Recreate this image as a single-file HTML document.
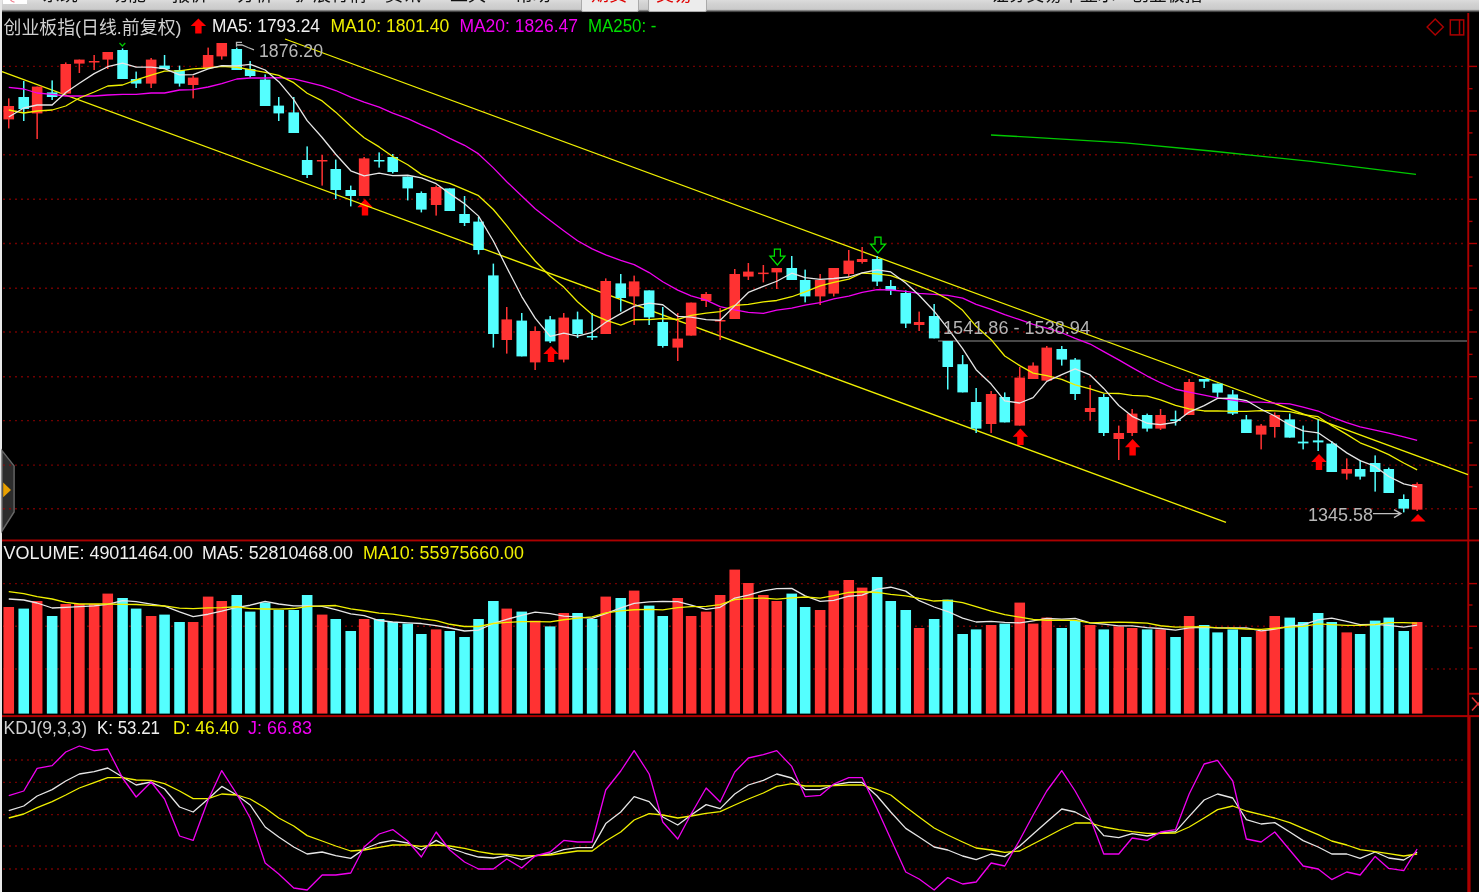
<!DOCTYPE html><html lang="zh"><head><meta charset="utf-8"><title>创业板指</title>
<style>
html,body{margin:0;padding:0;background:#000;}
body{width:1479px;height:892px;overflow:hidden;position:relative;font-family:"Liberation Sans","Noto Sans CJK SC",sans-serif;}
#top{position:absolute;left:0;top:0;width:1479px;height:13px;background:linear-gradient(#dcdcdc 0%,#d2d2d2 30%,#cacaca 72%,#000 97%);overflow:hidden;}
#top span{position:absolute;top:-14px;font-size:18px;line-height:18px;color:#111;white-space:nowrap;}
#top .btn{position:absolute;top:-6px;height:16px;background:#ececec;border:1px solid #aaa;border-radius:2px;}
#top span.red{color:#e00000;}
svg{position:absolute;left:0;top:0;}
svg text{font-family:"Liberation Sans","Noto Sans CJK SC",sans-serif;}
</style></head><body>
<div id="top">
<div class="btn" style="left:3px;width:24px;top:-12px;background:#fff;border:none;border-radius:0"></div>
<div class="btn" style="left:581px;width:56px"></div><div class="btn" style="left:648px;width:57px"></div>
<span class="" style="left:42px">系统</span>
<span class="" style="left:110px">功能</span>
<span class="" style="left:172px">报价</span>
<span class="" style="left:237px">分析</span>
<span class="" style="left:295px">扩展行情</span>
<span class="" style="left:385px">资讯</span>
<span class="" style="left:450px">工具</span>
<span class="" style="left:515px">帮助</span>
<span class="red" style="left:591px">期货</span>
<span class="red" style="left:656px">交易</span>
<span style="left:991px;font-size:17.8px">证券交易平显示 - 创业板指</span>
</div>
<svg width="1479" height="892" viewBox="0 0 1479 892">
<path d="M10.5 0 L12 1.2 L14.5 2.2" stroke="#f08090" stroke-width="1.2" fill="none"/>
<rect x="0" y="0" width="2" height="892" fill="#e8e8e8"/>
<path d="M2 450.6 L14.1 465.9 L14.1 512 L2 531 Z" fill="#2c2c2c" stroke="#686868" stroke-width="1.4"/>
<path d="M3.2 482.5 L11 490 L3.2 497.3 Z" fill="#e8a000"/>
<line x1="3.3" y1="66.4" x2="1464" y2="66.4" stroke="#a00000" stroke-width="1.4" stroke-dasharray="1.4 4.6"/>
<line x1="3.3" y1="111" x2="1464" y2="111" stroke="#a00000" stroke-width="1.4" stroke-dasharray="1.4 4.6"/>
<line x1="3.3" y1="154.8" x2="1464" y2="154.8" stroke="#a00000" stroke-width="1.4" stroke-dasharray="1.4 4.6"/>
<line x1="3.3" y1="199.3" x2="1464" y2="199.3" stroke="#a00000" stroke-width="1.4" stroke-dasharray="1.4 4.6"/>
<line x1="3.3" y1="243.5" x2="1464" y2="243.5" stroke="#a00000" stroke-width="1.4" stroke-dasharray="1.4 4.6"/>
<line x1="3.3" y1="288.2" x2="1464" y2="288.2" stroke="#a00000" stroke-width="1.4" stroke-dasharray="1.4 4.6"/>
<line x1="3.3" y1="332" x2="1464" y2="332" stroke="#a00000" stroke-width="1.4" stroke-dasharray="1.4 4.6"/>
<line x1="3.3" y1="376.7" x2="1464" y2="376.7" stroke="#a00000" stroke-width="1.4" stroke-dasharray="1.4 4.6"/>
<line x1="3.3" y1="420.6" x2="1464" y2="420.6" stroke="#a00000" stroke-width="1.4" stroke-dasharray="1.4 4.6"/>
<line x1="3.3" y1="465.1" x2="1464" y2="465.1" stroke="#a00000" stroke-width="1.4" stroke-dasharray="1.4 4.6"/>
<line x1="3.3" y1="508.7" x2="1464" y2="508.7" stroke="#a00000" stroke-width="1.4" stroke-dasharray="1.4 4.6"/>
<line x1="3.3" y1="583.6" x2="1464" y2="583.6" stroke="#a00000" stroke-width="1.4" stroke-dasharray="1.4 4.6"/>
<line x1="3.3" y1="626.3" x2="1464" y2="626.3" stroke="#a00000" stroke-width="1.4" stroke-dasharray="1.4 4.6"/>
<line x1="3.3" y1="669" x2="1464" y2="669" stroke="#a00000" stroke-width="1.4" stroke-dasharray="1.4 4.6"/>
<line x1="3.3" y1="760" x2="1464" y2="760" stroke="#a00000" stroke-width="1.4" stroke-dasharray="1.4 4.6"/>
<line x1="3.3" y1="782.4" x2="1464" y2="782.4" stroke="#a00000" stroke-width="1.4" stroke-dasharray="1.4 4.6"/>
<line x1="3.3" y1="814.6" x2="1464" y2="814.6" stroke="#a00000" stroke-width="1.4" stroke-dasharray="1.4 4.6"/>
<line x1="3.3" y1="846" x2="1464" y2="846" stroke="#a00000" stroke-width="1.4" stroke-dasharray="1.4 4.6"/>
<line x1="3.3" y1="869" x2="1464" y2="869" stroke="#a00000" stroke-width="1.4" stroke-dasharray="1.4 4.6"/>
<rect x="1467.3" y="13" width="1.9" height="703" fill="#ac0000"/>
<rect x="1467.3" y="716" width="3.3" height="176" fill="#ac0000"/>
<rect x="1469" y="65.7" width="8" height="1.4" fill="#ac0000"/>
<rect x="1469" y="88" width="3.5" height="1.4" fill="#ac0000"/>
<rect x="1469" y="110.3" width="8" height="1.4" fill="#ac0000"/>
<rect x="1469" y="132.2" width="3.5" height="1.4" fill="#ac0000"/>
<rect x="1469" y="154.1" width="8" height="1.4" fill="#ac0000"/>
<rect x="1469" y="176.35" width="3.5" height="1.4" fill="#ac0000"/>
<rect x="1469" y="198.6" width="8" height="1.4" fill="#ac0000"/>
<rect x="1469" y="220.7" width="3.5" height="1.4" fill="#ac0000"/>
<rect x="1469" y="242.8" width="8" height="1.4" fill="#ac0000"/>
<rect x="1469" y="265.15" width="3.5" height="1.4" fill="#ac0000"/>
<rect x="1469" y="287.5" width="8" height="1.4" fill="#ac0000"/>
<rect x="1469" y="309.4" width="3.5" height="1.4" fill="#ac0000"/>
<rect x="1469" y="331.3" width="8" height="1.4" fill="#ac0000"/>
<rect x="1469" y="353.65" width="3.5" height="1.4" fill="#ac0000"/>
<rect x="1469" y="376" width="8" height="1.4" fill="#ac0000"/>
<rect x="1469" y="397.95" width="3.5" height="1.4" fill="#ac0000"/>
<rect x="1469" y="419.9" width="8" height="1.4" fill="#ac0000"/>
<rect x="1469" y="442.15" width="3.5" height="1.4" fill="#ac0000"/>
<rect x="1469" y="464.4" width="8" height="1.4" fill="#ac0000"/>
<rect x="1469" y="486.2" width="3.5" height="1.4" fill="#ac0000"/>
<rect x="1469" y="508" width="8" height="1.4" fill="#ac0000"/>
<rect x="1469" y="582.9" width="8" height="1.4" fill="#ac0000"/>
<rect x="1469" y="625.6" width="8" height="1.4" fill="#ac0000"/>
<rect x="1469" y="668.3" width="8" height="1.4" fill="#ac0000"/>
<rect x="1469" y="604.3" width="3.5" height="1.4" fill="#ac0000"/>
<rect x="1469" y="647.3" width="3.5" height="1.4" fill="#ac0000"/>
<rect x="2" y="539.5" width="1477" height="1.9" fill="#ac0000"/>
<rect x="2" y="715.1" width="1477" height="2" fill="#ac0000"/>
<rect x="1469" y="692.8" width="10" height="1.9" fill="#ac0000"/>
<path d="M1472 697.5 L1478 704 L1472 710.5 M1478 704 L1484 697.5 M1478 704 L1484 710.5" stroke="#e63232" stroke-width="1.6" fill="none"/>
<path d="M1435.2 19 L1443.3 27 L1435.2 35 L1427.1 27 Z" stroke="#ac0000" stroke-width="1.4" fill="none"/>
<rect x="1450.3" y="19.9" width="13.4" height="15" stroke="#ac0000" stroke-width="1.5" fill="none"/>
<line x1="1459.5" y1="19.9" x2="1459.5" y2="34.9" stroke="#ac0000" stroke-width="1.5"/>
<path d="M365 199 L372.7 207.3 L368.2 207.3 L368.2 215.6 L361.8 215.6 L361.8 207.3 L357.3 207.3 Z" fill="#ff0000"/>
<path d="M551 346 L558.7 354 L554.2 354 L554.2 362 L547.8 362 L547.8 354 L543.3 354 Z" fill="#ff0000"/>
<path d="M1020.4 428.6 L1028.1 436.8 L1023.6 436.8 L1023.6 445 L1017.2 445 L1017.2 436.8 L1012.7 436.8 Z" fill="#ff0000"/>
<path d="M1132.6 439 L1140.3 447.3 L1135.8 447.3 L1135.8 455.6 L1129.4 455.6 L1129.4 447.3 L1124.9 447.3 Z" fill="#ff0000"/>
<path d="M1319 454 L1326.7 462 L1322.2 462 L1322.2 470 L1315.8 470 L1315.8 462 L1311.3 462 Z" fill="#ff0000"/>
<path d="M198.4 18.4 L206.1 26 L201.6 26 L201.6 33.6 L195.2 33.6 L195.2 26 L190.7 26 Z" fill="#ff0000"/>
<path d="M774.4 249 L780.4 249 L780.4 256.04 L784.9 256.04 L777.4 265 L769.9 256.04 L774.4 256.04 Z" fill="#000" stroke="#00e400" stroke-width="1.25"/>
<path d="M875 237 L881 237 L881 244.04 L885.5 244.04 L878 253 L870.5 244.04 L875 244.04 Z" fill="#000" stroke="#00e400" stroke-width="1.25"/>
<path d="M119.5 43 L122.4 46 L125.3 43" stroke="#00c000" stroke-width="1.3" fill="none"/>
<path d="M1418 514 L1425.6 521.6 L1410.6 521.6 Z" fill="#ff0000"/>
<line x1="285" y1="39" x2="1468" y2="474.6" stroke="#f0f000" stroke-width="1.3"/>
<line x1="2" y1="71.6" x2="1226" y2="522.4" stroke="#f0f000" stroke-width="1.3"/>
<line x1="938" y1="341" x2="1467" y2="341" stroke="#909090" stroke-width="1.2"/>
<rect x="8" y="98.4" width="1.5" height="30" fill="#ff3232"/>
<rect x="3.45" y="106" width="10.6" height="13.4" fill="#ff3232"/>
<rect x="23" y="81" width="1.5" height="40" fill="#54ffff"/>
<rect x="18.45" y="97" width="10.6" height="12" fill="#54ffff"/>
<rect x="36.4" y="86.6" width="1.5" height="52.4" fill="#ff3232"/>
<rect x="31.85" y="86.6" width="10.6" height="26.8" fill="#ff3232"/>
<rect x="51.4" y="80.4" width="1.5" height="19.6" fill="#54ffff"/>
<rect x="46.85" y="92.4" width="10.6" height="4.6" fill="#54ffff"/>
<rect x="65" y="62.4" width="1.5" height="31.2" fill="#ff3232"/>
<rect x="60.45" y="64" width="10.6" height="29.6" fill="#ff3232"/>
<rect x="78.6" y="59.6" width="1.5" height="13.4" fill="#ff3232"/>
<rect x="74.05" y="59.6" width="10.6" height="4" fill="#ff3232"/>
<rect x="93.4" y="55" width="1.5" height="15" fill="#ff3232"/>
<rect x="88.85" y="61" width="10.6" height="1.5" fill="#ff3232"/>
<rect x="107" y="52" width="1.5" height="17" fill="#ff3232"/>
<rect x="102.45" y="52" width="10.6" height="7.6" fill="#ff3232"/>
<rect x="121.8" y="48.4" width="1.5" height="30.6" fill="#54ffff"/>
<rect x="117.25" y="50" width="10.6" height="29" fill="#54ffff"/>
<rect x="135.4" y="71.6" width="1.5" height="16.4" fill="#54ffff"/>
<rect x="130.85" y="79" width="10.6" height="4.6" fill="#54ffff"/>
<rect x="150.4" y="58" width="1.5" height="30" fill="#ff3232"/>
<rect x="145.85" y="59.6" width="10.6" height="24" fill="#ff3232"/>
<rect x="163.8" y="55" width="1.5" height="14" fill="#54ffff"/>
<rect x="159.25" y="65.6" width="10.6" height="3.4" fill="#54ffff"/>
<rect x="178.8" y="65.6" width="1.5" height="21" fill="#54ffff"/>
<rect x="174.25" y="70" width="10.6" height="13.6" fill="#54ffff"/>
<rect x="192.4" y="75.6" width="1.5" height="22.8" fill="#ff3232"/>
<rect x="187.85" y="77.6" width="10.6" height="7.4" fill="#ff3232"/>
<rect x="207.4" y="47.6" width="1.5" height="20.4" fill="#ff3232"/>
<rect x="202.85" y="55" width="10.6" height="13" fill="#ff3232"/>
<rect x="221" y="43" width="1.5" height="16.6" fill="#ff3232"/>
<rect x="216.45" y="43" width="10.6" height="13.4" fill="#ff3232"/>
<rect x="236" y="47.6" width="1.5" height="22.4" fill="#54ffff"/>
<rect x="231.45" y="49" width="10.6" height="21" fill="#54ffff"/>
<rect x="249.4" y="61" width="1.5" height="16.6" fill="#54ffff"/>
<rect x="244.85" y="69" width="10.6" height="7" fill="#54ffff"/>
<rect x="264.4" y="74.4" width="1.5" height="31.6" fill="#54ffff"/>
<rect x="259.85" y="79.6" width="10.6" height="26.4" fill="#54ffff"/>
<rect x="278" y="97" width="1.5" height="24" fill="#54ffff"/>
<rect x="273.45" y="105.6" width="10.6" height="7.8" fill="#54ffff"/>
<rect x="293" y="97" width="1.5" height="36" fill="#54ffff"/>
<rect x="288.45" y="112.4" width="10.6" height="20.6" fill="#54ffff"/>
<rect x="306.4" y="146.4" width="1.5" height="31.6" fill="#54ffff"/>
<rect x="301.85" y="160" width="10.6" height="15" fill="#54ffff"/>
<rect x="321.4" y="155" width="1.5" height="30.6" fill="#ff3232"/>
<rect x="316.85" y="160" width="10.6" height="1.5" fill="#ff3232"/>
<rect x="335" y="159.6" width="1.5" height="39.4" fill="#54ffff"/>
<rect x="330.45" y="169" width="10.6" height="21" fill="#54ffff"/>
<rect x="350" y="185.6" width="1.5" height="20.8" fill="#54ffff"/>
<rect x="345.45" y="190" width="10.6" height="6" fill="#54ffff"/>
<rect x="363.4" y="157" width="1.5" height="39" fill="#ff3232"/>
<rect x="358.85" y="158.4" width="10.6" height="37.6" fill="#ff3232"/>
<rect x="378.4" y="152.4" width="1.5" height="15.2" fill="#54ffff"/>
<rect x="373.85" y="160" width="10.6" height="1.5" fill="#54ffff"/>
<rect x="392" y="154" width="1.5" height="19.4" fill="#54ffff"/>
<rect x="387.45" y="157" width="10.6" height="15" fill="#54ffff"/>
<rect x="407" y="176.6" width="1.5" height="23.8" fill="#54ffff"/>
<rect x="402.45" y="176.6" width="10.6" height="11.8" fill="#54ffff"/>
<rect x="420.6" y="191.4" width="1.5" height="21" fill="#54ffff"/>
<rect x="416.05" y="193" width="10.6" height="16.6" fill="#54ffff"/>
<rect x="435.4" y="185.6" width="1.5" height="30" fill="#ff3232"/>
<rect x="430.85" y="187" width="10.6" height="18" fill="#ff3232"/>
<rect x="449" y="188.4" width="1.5" height="22.6" fill="#54ffff"/>
<rect x="444.45" y="188.4" width="10.6" height="22.6" fill="#54ffff"/>
<rect x="463.8" y="196" width="1.5" height="30" fill="#54ffff"/>
<rect x="459.25" y="214" width="10.6" height="9" fill="#54ffff"/>
<rect x="477.8" y="217" width="1.5" height="37.4" fill="#54ffff"/>
<rect x="473.25" y="221.6" width="10.6" height="28.4" fill="#54ffff"/>
<rect x="492.6" y="263.6" width="1.5" height="84" fill="#54ffff"/>
<rect x="488.05" y="275.4" width="10.6" height="58.6" fill="#54ffff"/>
<rect x="506" y="307" width="1.5" height="46.6" fill="#ff3232"/>
<rect x="501.45" y="319.4" width="10.6" height="20.6" fill="#ff3232"/>
<rect x="521" y="313" width="1.5" height="43.4" fill="#54ffff"/>
<rect x="516.45" y="320.6" width="10.6" height="35.8" fill="#54ffff"/>
<rect x="534.4" y="326.4" width="1.5" height="43.6" fill="#ff3232"/>
<rect x="529.85" y="331" width="10.6" height="31.4" fill="#ff3232"/>
<rect x="549.4" y="316" width="1.5" height="27" fill="#54ffff"/>
<rect x="544.85" y="319.4" width="10.6" height="22" fill="#54ffff"/>
<rect x="563" y="313" width="1.5" height="49.4" fill="#ff3232"/>
<rect x="558.45" y="317.6" width="10.6" height="42" fill="#ff3232"/>
<rect x="576.8" y="311.6" width="1.5" height="26.4" fill="#54ffff"/>
<rect x="572.25" y="319.4" width="10.6" height="14.6" fill="#54ffff"/>
<rect x="591.4" y="313" width="1.5" height="27" fill="#54ffff"/>
<rect x="586.85" y="336" width="10.6" height="1.5" fill="#54ffff"/>
<rect x="605" y="278.4" width="1.5" height="55.6" fill="#ff3232"/>
<rect x="600.45" y="281" width="10.6" height="53" fill="#ff3232"/>
<rect x="620" y="274" width="1.5" height="37.6" fill="#54ffff"/>
<rect x="615.45" y="283.4" width="10.6" height="14.6" fill="#54ffff"/>
<rect x="633.4" y="275.6" width="1.5" height="49.4" fill="#ff3232"/>
<rect x="628.85" y="281.4" width="10.6" height="15" fill="#ff3232"/>
<rect x="648.4" y="290.4" width="1.5" height="34.6" fill="#54ffff"/>
<rect x="643.85" y="290.4" width="10.6" height="27" fill="#54ffff"/>
<rect x="662" y="307" width="1.5" height="40.6" fill="#54ffff"/>
<rect x="657.45" y="322" width="10.6" height="24" fill="#54ffff"/>
<rect x="677" y="313" width="1.5" height="48" fill="#ff3232"/>
<rect x="672.45" y="338.6" width="10.6" height="9" fill="#ff3232"/>
<rect x="690.4" y="302.6" width="1.5" height="33" fill="#ff3232"/>
<rect x="685.85" y="302.6" width="10.6" height="33" fill="#ff3232"/>
<rect x="705.4" y="292" width="1.5" height="15" fill="#ff3232"/>
<rect x="700.85" y="294" width="10.6" height="7" fill="#ff3232"/>
<rect x="719.4" y="308" width="1.5" height="32" fill="#ff3232"/>
<rect x="714.85" y="320" width="10.6" height="1.5" fill="#ff3232"/>
<rect x="734" y="269" width="1.5" height="50" fill="#ff3232"/>
<rect x="729.45" y="274" width="10.6" height="45" fill="#ff3232"/>
<rect x="747.6" y="263" width="1.5" height="17" fill="#ff3232"/>
<rect x="743.05" y="271.6" width="10.6" height="5" fill="#ff3232"/>
<rect x="762.6" y="265" width="1.5" height="17.4" fill="#ff3232"/>
<rect x="758.05" y="272.6" width="10.6" height="1.5" fill="#ff3232"/>
<rect x="776" y="268" width="1.5" height="21" fill="#ff3232"/>
<rect x="771.45" y="268" width="10.6" height="4.4" fill="#ff3232"/>
<rect x="791" y="256" width="1.5" height="24" fill="#54ffff"/>
<rect x="786.45" y="268" width="10.6" height="12" fill="#54ffff"/>
<rect x="804.4" y="269.6" width="1.5" height="32.8" fill="#54ffff"/>
<rect x="799.85" y="280" width="10.6" height="16.4" fill="#54ffff"/>
<rect x="819.4" y="274" width="1.5" height="31" fill="#ff3232"/>
<rect x="814.85" y="280" width="10.6" height="16.4" fill="#ff3232"/>
<rect x="833" y="268" width="1.5" height="28.4" fill="#ff3232"/>
<rect x="828.45" y="268" width="10.6" height="25.6" fill="#ff3232"/>
<rect x="848" y="250" width="1.5" height="27" fill="#ff3232"/>
<rect x="843.45" y="260.6" width="10.6" height="13.4" fill="#ff3232"/>
<rect x="861.4" y="247" width="1.5" height="16.6" fill="#ff3232"/>
<rect x="856.85" y="259" width="10.6" height="3" fill="#ff3232"/>
<rect x="876.4" y="256" width="1.5" height="30" fill="#54ffff"/>
<rect x="871.85" y="259" width="10.6" height="22.6" fill="#54ffff"/>
<rect x="890" y="280" width="1.5" height="15" fill="#54ffff"/>
<rect x="885.45" y="286" width="10.6" height="4.4" fill="#54ffff"/>
<rect x="905" y="290.4" width="1.5" height="37.6" fill="#54ffff"/>
<rect x="900.45" y="293" width="10.6" height="30.6" fill="#54ffff"/>
<rect x="918.4" y="311.6" width="1.5" height="19.4" fill="#ff3232"/>
<rect x="913.85" y="322" width="10.6" height="3" fill="#ff3232"/>
<rect x="933.4" y="304" width="1.5" height="34.4" fill="#54ffff"/>
<rect x="928.85" y="316" width="10.6" height="22.4" fill="#54ffff"/>
<rect x="947" y="341" width="1.5" height="48.5" fill="#54ffff"/>
<rect x="942.45" y="341" width="10.6" height="26" fill="#54ffff"/>
<rect x="961.9" y="355" width="1.5" height="37.4" fill="#54ffff"/>
<rect x="957.35" y="364.2" width="10.6" height="28.2" fill="#54ffff"/>
<rect x="975.4" y="388" width="1.5" height="45" fill="#54ffff"/>
<rect x="970.85" y="402" width="10.6" height="26.6" fill="#54ffff"/>
<rect x="990.4" y="391" width="1.5" height="42" fill="#ff3232"/>
<rect x="985.85" y="394" width="10.6" height="30" fill="#ff3232"/>
<rect x="1004" y="392.4" width="1.5" height="30" fill="#54ffff"/>
<rect x="999.45" y="397" width="10.6" height="25.4" fill="#54ffff"/>
<rect x="1019" y="367" width="1.5" height="58.6" fill="#ff3232"/>
<rect x="1014.45" y="377.6" width="10.6" height="48" fill="#ff3232"/>
<rect x="1032.4" y="362.4" width="1.5" height="16.6" fill="#ff3232"/>
<rect x="1027.85" y="365.6" width="10.6" height="13.4" fill="#ff3232"/>
<rect x="1046" y="346" width="1.5" height="34.6" fill="#ff3232"/>
<rect x="1041.45" y="347.6" width="10.6" height="33" fill="#ff3232"/>
<rect x="1061" y="346" width="1.5" height="19.6" fill="#54ffff"/>
<rect x="1056.45" y="349" width="10.6" height="10.6" fill="#54ffff"/>
<rect x="1074.4" y="358" width="1.5" height="42" fill="#54ffff"/>
<rect x="1069.85" y="359.6" width="10.6" height="34.4" fill="#54ffff"/>
<rect x="1089.4" y="385" width="1.5" height="35.6" fill="#ff3232"/>
<rect x="1084.85" y="408" width="10.6" height="4" fill="#ff3232"/>
<rect x="1103" y="394" width="1.5" height="42" fill="#54ffff"/>
<rect x="1098.45" y="397" width="10.6" height="36" fill="#54ffff"/>
<rect x="1118" y="425.6" width="1.5" height="34.4" fill="#ff3232"/>
<rect x="1113.45" y="433" width="10.6" height="6" fill="#ff3232"/>
<rect x="1131.4" y="409" width="1.5" height="27" fill="#ff3232"/>
<rect x="1126.85" y="413.6" width="10.6" height="19.4" fill="#ff3232"/>
<rect x="1146.4" y="413.6" width="1.5" height="18" fill="#54ffff"/>
<rect x="1141.85" y="415" width="10.6" height="13.6" fill="#54ffff"/>
<rect x="1159.8" y="409" width="1.5" height="21" fill="#ff3232"/>
<rect x="1155.25" y="415" width="10.6" height="13.6" fill="#ff3232"/>
<rect x="1174.8" y="410.6" width="1.5" height="15" fill="#54ffff"/>
<rect x="1170.25" y="419.4" width="10.6" height="1.6" fill="#54ffff"/>
<rect x="1188.4" y="379" width="1.5" height="36" fill="#ff3232"/>
<rect x="1183.85" y="382" width="10.6" height="33" fill="#ff3232"/>
<rect x="1203.4" y="379" width="1.5" height="9" fill="#54ffff"/>
<rect x="1198.85" y="379" width="10.6" height="2.6" fill="#54ffff"/>
<rect x="1216.8" y="383.6" width="1.5" height="14.8" fill="#54ffff"/>
<rect x="1212.25" y="383.6" width="10.6" height="9" fill="#54ffff"/>
<rect x="1232" y="390" width="1.5" height="25" fill="#54ffff"/>
<rect x="1227.45" y="394.4" width="10.6" height="19.2" fill="#54ffff"/>
<rect x="1245.6" y="415" width="1.5" height="18" fill="#54ffff"/>
<rect x="1241.05" y="419.4" width="10.6" height="13.6" fill="#54ffff"/>
<rect x="1260.4" y="424" width="1.5" height="25.4" fill="#ff3232"/>
<rect x="1255.85" y="425.6" width="10.6" height="9" fill="#ff3232"/>
<rect x="1274" y="412.4" width="1.5" height="25.2" fill="#ff3232"/>
<rect x="1269.45" y="415" width="10.6" height="12" fill="#ff3232"/>
<rect x="1289" y="413.6" width="1.5" height="24" fill="#54ffff"/>
<rect x="1284.45" y="419.4" width="10.6" height="18.2" fill="#54ffff"/>
<rect x="1302.4" y="425.6" width="1.5" height="23.8" fill="#54ffff"/>
<rect x="1297.85" y="441.6" width="10.6" height="1.8" fill="#54ffff"/>
<rect x="1317.4" y="419.4" width="1.5" height="31.6" fill="#54ffff"/>
<rect x="1312.85" y="440.4" width="10.6" height="2" fill="#54ffff"/>
<rect x="1331" y="441" width="1.5" height="31" fill="#54ffff"/>
<rect x="1326.45" y="443.6" width="10.6" height="28.4" fill="#54ffff"/>
<rect x="1346" y="458.4" width="1.5" height="21.2" fill="#ff3232"/>
<rect x="1341.45" y="469" width="10.6" height="4.6" fill="#ff3232"/>
<rect x="1359.4" y="460" width="1.5" height="19.6" fill="#54ffff"/>
<rect x="1354.85" y="469" width="10.6" height="7.6" fill="#54ffff"/>
<rect x="1374.4" y="455.4" width="1.5" height="36.2" fill="#54ffff"/>
<rect x="1369.85" y="463" width="10.6" height="9" fill="#54ffff"/>
<rect x="1388" y="467.6" width="1.5" height="25.4" fill="#54ffff"/>
<rect x="1383.45" y="469" width="10.6" height="24" fill="#54ffff"/>
<rect x="1403" y="494.4" width="1.5" height="18" fill="#54ffff"/>
<rect x="1398.45" y="499" width="10.6" height="9.6" fill="#54ffff"/>
<rect x="1416.4" y="482.4" width="1.5" height="28.6" fill="#ff3232"/>
<rect x="1411.85" y="484" width="10.6" height="25.6" fill="#ff3232"/>
<polyline points="8.75,87.4 23.75,89 37.15,93 52.15,94.4 65.75,96 79.35,96 94.15,96 107.75,95 122.55,94.4 136.15,94.4 151.15,93 164.55,93 179.55,90 193.15,89.6 208.15,87 221.75,83.6 236.75,79 250.15,78 265.15,78 278.75,77.55 293.75,78.9 307.15,82.2 322.15,85.87 335.75,90.52 350.75,97.12 364.15,102.06 379.15,107.08 392.75,113.08 407.75,118.55 421.35,124.85 436.15,131.22 449.75,138.32 464.55,145.29 478.55,153.91 493.35,167.86 506.75,181.68 521.75,196 535.15,208.75 550.15,220.52 563.75,230.73 577.55,240.78 592.15,248.9 605.75,254.95 620.75,260.35 634.15,264.62 649.15,272.57 662.75,281.8 677.75,290.13 691.15,295.84 706.15,300.06 720.15,306.71 734.75,309.86 748.35,312.29 763.35,313.42 776.75,310.12 791.75,308.15 805.15,305.15 820.15,302.6 833.75,298.93 848.75,296.08 862.15,292.33 877.15,289.54 890.75,290.01 905.75,291.29 919.15,293.32 934.15,294.37 947.75,295.42 962.65,298.11 976.15,304.41 991.15,309.41 1004.75,314.53 1019.75,319.71 1033.15,324.41 1046.75,328.16 1061.75,332.74 1075.15,338.44 1090.15,344.02 1103.75,351.67 1118.75,359.92 1132.15,367.57 1147.15,376.05 1160.55,382.72 1175.55,389.25 1189.15,392.17 1204.15,395.15 1217.55,397.86 1232.75,400.19 1246.35,402.22 1261.15,402.07 1274.75,403.12 1289.75,403.88 1303.15,407.17 1318.15,411.01 1331.75,417.23 1346.75,422.7 1360.15,426.83 1375.15,430.03 1388.75,433.03 1403.75,436.81 1417.15,440.33" fill="none" stroke="#f000f0" stroke-width="1.3" stroke-linejoin="round" />
<polyline points="8.75,110 23.75,113 37.15,111 52.15,110 65.75,106 79.35,98 94.15,92 107.75,86 122.55,85 136.15,79.78 151.15,75.14 164.55,71.14 179.55,70.84 193.15,68.9 208.15,68 221.75,66.34 236.75,67.24 250.15,69.64 265.15,72.34 278.75,75.32 293.75,82.66 307.15,93.26 322.15,100.9 335.75,112.14 350.75,126.24 364.15,137.78 379.15,146.92 392.75,156.52 407.75,164.76 421.35,174.38 436.15,179.78 449.75,183.38 464.55,189.68 478.55,195.68 493.35,209.48 506.75,225.58 521.75,245.08 535.15,260.98 550.15,276.28 563.75,287.08 577.55,301.78 592.15,314.42 605.75,320.22 620.75,325.02 634.15,319.76 649.15,319.56 662.75,318.52 677.75,319.28 691.15,315.4 706.15,313.04 720.15,311.64 734.75,305.3 748.35,304.36 763.35,301.82 776.75,300.48 791.75,296.74 805.15,291.78 820.15,285.92 833.75,282.46 848.75,279.12 862.15,273.02 877.15,273.78 890.75,275.66 905.75,280.76 919.15,286.16 934.15,292 947.75,299.06 962.65,310.3 976.15,326.36 991.15,339.7 1004.75,356.04 1019.75,365.64 1033.15,373.16 1046.75,375.56 1061.75,379.32 1075.15,384.88 1090.15,388.98 1103.75,393.04 1118.75,393.48 1132.15,395.44 1147.15,396.06 1160.55,399.8 1175.55,405.34 1189.15,408.78 1204.15,410.98 1217.55,410.84 1232.75,411.4 1246.35,411.4 1261.15,410.66 1274.75,410.8 1289.75,411.7 1303.15,414.54 1318.15,416.68 1331.75,425.68 1346.75,434.42 1360.15,442.82 1375.15,448.66 1388.75,454.66 1403.75,462.96 1417.15,469.86" fill="none" stroke="#f0f000" stroke-width="1.3" stroke-linejoin="round" />
<polyline points="8.75,117 23.75,108 37.15,105 52.15,105 65.75,92.52 79.35,83.24 94.15,73.64 107.75,66.72 122.55,63.12 136.15,67.04 151.15,67.04 164.55,68.64 179.55,74.96 193.15,74.68 208.15,68.96 221.75,65.64 236.75,65.84 250.15,64.32 265.15,70 278.75,81.68 293.75,99.68 307.15,120.68 322.15,137.48 335.75,154.28 350.75,170.8 364.15,175.88 379.15,173.16 392.75,175.56 407.75,175.24 421.35,177.96 436.15,183.68 449.75,193.6 464.55,203.8 478.55,216.12 493.35,241 506.75,267.48 521.75,296.56 535.15,318.16 550.15,336.44 563.75,333.16 577.55,336.08 592.15,332.28 605.75,322.28 620.75,313.6 634.15,306.36 649.15,303.04 662.75,304.76 677.75,316.28 691.15,317.2 706.15,319.72 720.15,320.24 734.75,305.84 748.35,292.44 763.35,286.44 776.75,281.24 791.75,273.24 805.15,277.72 820.15,279.4 833.75,278.48 848.75,277 862.15,272.8 877.15,269.84 890.75,271.92 905.75,283.04 919.15,295.32 934.15,311.2 947.75,328.28 962.65,348.68 976.15,369.68 991.15,384.08 1004.75,400.88 1019.75,403 1033.15,397.64 1046.75,381.44 1061.75,374.56 1075.15,368.88 1090.15,374.96 1103.75,388.44 1118.75,405.52 1132.15,416.32 1147.15,423.24 1160.55,424.64 1175.55,422.24 1189.15,412.04 1204.15,405.64 1217.55,398.44 1232.75,398.16 1246.35,400.56 1261.15,409.28 1274.75,415.96 1289.75,424.96 1303.15,430.92 1318.15,432.8 1331.75,442.08 1346.75,452.88 1360.15,460.68 1375.15,466.4 1388.75,476.52 1403.75,483.84 1417.15,486.84" fill="none" stroke="#e6e6e6" stroke-width="1.3" stroke-linejoin="round" />
<polyline points="991,135 1033,137.3 1125,142.8 1211,151 1311,161.4 1416,174.4" fill="none" stroke="#00c800" stroke-width="1.3" stroke-linejoin="round" />
<text x="3.5" y="33.5" fill="#d0d0d0" font-size="18.6" textLength="178" lengthAdjust="spacingAndGlyphs" >创业板指(日线.前复权)</text>
<text x="212" y="32.3" fill="#f0f0f0" font-size="17.6" textLength="108" lengthAdjust="spacingAndGlyphs" >MA5: 1793.24</text>
<text x="330.4" y="32.3" fill="#f0f000" font-size="17.6" textLength="119" lengthAdjust="spacingAndGlyphs" >MA10: 1801.40</text>
<text x="459.4" y="32.3" fill="#f000f0" font-size="17.6" textLength="118.6" lengthAdjust="spacingAndGlyphs" >MA20: 1826.47</text>
<text x="588" y="32.3" fill="#00e000" font-size="17.6" textLength="68.4" lengthAdjust="spacingAndGlyphs" >MA250: -</text>
<text x="259" y="57" fill="#b8b8b8" font-size="17.6" textLength="64" lengthAdjust="spacingAndGlyphs" >1876.20</text>
<path d="M236.5 46.8 L236.5 42.3 L242 42.3 M236.5 45 L242 45 L248 47.5 L254 49.8" stroke="#b8b8b8" stroke-width="1.3" fill="none"/>
<text x="943" y="334" fill="#b4b4b4" font-size="17.6" textLength="147" lengthAdjust="spacingAndGlyphs" >1541.86 - 1538.94</text>
<text x="1308" y="521" fill="#b8b8b8" font-size="17.6" textLength="65" lengthAdjust="spacingAndGlyphs" >1345.58</text>
<path d="M1373 513.6 L1401 513.6 M1394 509.6 L1401 513.6 L1394 517.6" stroke="#c0c0c0" stroke-width="1.3" fill="none"/>
<rect x="3.45" y="607" width="10.6" height="106.6" fill="#ff3232"/>
<rect x="18.45" y="608.6" width="10.6" height="105" fill="#54ffff"/>
<rect x="31.85" y="601" width="10.6" height="112.6" fill="#ff3232"/>
<rect x="46.85" y="616" width="10.6" height="97.6" fill="#54ffff"/>
<rect x="60.45" y="604" width="10.6" height="109.6" fill="#ff3232"/>
<rect x="74.05" y="604" width="10.6" height="109.6" fill="#ff3232"/>
<rect x="88.85" y="604" width="10.6" height="109.6" fill="#ff3232"/>
<rect x="102.45" y="593.6" width="10.6" height="120" fill="#ff3232"/>
<rect x="117.25" y="598" width="10.6" height="115.6" fill="#54ffff"/>
<rect x="130.85" y="608.6" width="10.6" height="105" fill="#54ffff"/>
<rect x="145.85" y="616" width="10.6" height="97.6" fill="#ff3232"/>
<rect x="159.25" y="614.6" width="10.6" height="99" fill="#54ffff"/>
<rect x="174.25" y="622" width="10.6" height="91.6" fill="#54ffff"/>
<rect x="187.85" y="622" width="10.6" height="91.6" fill="#ff3232"/>
<rect x="202.85" y="596.6" width="10.6" height="117" fill="#ff3232"/>
<rect x="216.45" y="601" width="10.6" height="112.6" fill="#ff3232"/>
<rect x="231.45" y="595" width="10.6" height="118.6" fill="#54ffff"/>
<rect x="244.85" y="611.6" width="10.6" height="102" fill="#54ffff"/>
<rect x="259.85" y="602.4" width="10.6" height="111.2" fill="#54ffff"/>
<rect x="273.45" y="610" width="10.6" height="103.6" fill="#54ffff"/>
<rect x="288.45" y="610" width="10.6" height="103.6" fill="#54ffff"/>
<rect x="301.85" y="595" width="10.6" height="118.6" fill="#54ffff"/>
<rect x="316.85" y="614.6" width="10.6" height="99" fill="#ff3232"/>
<rect x="330.45" y="619" width="10.6" height="94.6" fill="#54ffff"/>
<rect x="345.45" y="631" width="10.6" height="82.6" fill="#54ffff"/>
<rect x="358.85" y="619" width="10.6" height="94.6" fill="#ff3232"/>
<rect x="373.85" y="619" width="10.6" height="94.6" fill="#54ffff"/>
<rect x="387.45" y="622" width="10.6" height="91.6" fill="#54ffff"/>
<rect x="402.45" y="623.6" width="10.6" height="90" fill="#54ffff"/>
<rect x="416.05" y="634" width="10.6" height="79.6" fill="#54ffff"/>
<rect x="430.85" y="629.4" width="10.6" height="84.2" fill="#ff3232"/>
<rect x="444.45" y="631" width="10.6" height="82.6" fill="#54ffff"/>
<rect x="459.25" y="637" width="10.6" height="76.6" fill="#54ffff"/>
<rect x="473.25" y="619" width="10.6" height="94.6" fill="#54ffff"/>
<rect x="488.05" y="601" width="10.6" height="112.6" fill="#54ffff"/>
<rect x="501.45" y="608.6" width="10.6" height="105" fill="#ff3232"/>
<rect x="516.45" y="611.6" width="10.6" height="102" fill="#54ffff"/>
<rect x="529.85" y="620.6" width="10.6" height="93" fill="#ff3232"/>
<rect x="544.85" y="626.4" width="10.6" height="87.2" fill="#54ffff"/>
<rect x="558.45" y="613" width="10.6" height="100.6" fill="#ff3232"/>
<rect x="572.25" y="613" width="10.6" height="100.6" fill="#54ffff"/>
<rect x="586.85" y="619" width="10.6" height="94.6" fill="#54ffff"/>
<rect x="600.45" y="596.6" width="10.6" height="117" fill="#ff3232"/>
<rect x="615.45" y="598" width="10.6" height="115.6" fill="#54ffff"/>
<rect x="628.85" y="590.6" width="10.6" height="123" fill="#ff3232"/>
<rect x="643.85" y="605.6" width="10.6" height="108" fill="#54ffff"/>
<rect x="657.45" y="616" width="10.6" height="97.6" fill="#54ffff"/>
<rect x="672.45" y="598" width="10.6" height="115.6" fill="#ff3232"/>
<rect x="685.85" y="616" width="10.6" height="97.6" fill="#ff3232"/>
<rect x="700.85" y="611.6" width="10.6" height="102" fill="#ff3232"/>
<rect x="714.85" y="595" width="10.6" height="118.6" fill="#ff3232"/>
<rect x="729.45" y="569.6" width="10.6" height="144" fill="#ff3232"/>
<rect x="743.05" y="583" width="10.6" height="130.6" fill="#ff3232"/>
<rect x="758.05" y="595" width="10.6" height="118.6" fill="#ff3232"/>
<rect x="771.45" y="601" width="10.6" height="112.6" fill="#ff3232"/>
<rect x="786.45" y="593.6" width="10.6" height="120" fill="#54ffff"/>
<rect x="799.85" y="607" width="10.6" height="106.6" fill="#54ffff"/>
<rect x="814.85" y="610" width="10.6" height="103.6" fill="#ff3232"/>
<rect x="828.45" y="590.6" width="10.6" height="123" fill="#ff3232"/>
<rect x="843.45" y="580" width="10.6" height="133.6" fill="#ff3232"/>
<rect x="856.85" y="587.6" width="10.6" height="126" fill="#ff3232"/>
<rect x="871.85" y="577" width="10.6" height="136.6" fill="#54ffff"/>
<rect x="885.45" y="601" width="10.6" height="112.6" fill="#54ffff"/>
<rect x="900.45" y="610" width="10.6" height="103.6" fill="#54ffff"/>
<rect x="913.85" y="628" width="10.6" height="85.6" fill="#ff3232"/>
<rect x="928.85" y="619" width="10.6" height="94.6" fill="#54ffff"/>
<rect x="942.45" y="599.6" width="10.6" height="114" fill="#54ffff"/>
<rect x="957.35" y="634" width="10.6" height="79.6" fill="#54ffff"/>
<rect x="970.85" y="629.4" width="10.6" height="84.2" fill="#54ffff"/>
<rect x="985.85" y="625" width="10.6" height="88.6" fill="#ff3232"/>
<rect x="999.45" y="623.6" width="10.6" height="90" fill="#54ffff"/>
<rect x="1014.45" y="602.6" width="10.6" height="111" fill="#ff3232"/>
<rect x="1027.85" y="623.6" width="10.6" height="90" fill="#ff3232"/>
<rect x="1041.45" y="617.6" width="10.6" height="96" fill="#ff3232"/>
<rect x="1056.45" y="628" width="10.6" height="85.6" fill="#54ffff"/>
<rect x="1069.85" y="620.6" width="10.6" height="93" fill="#54ffff"/>
<rect x="1084.85" y="625" width="10.6" height="88.6" fill="#ff3232"/>
<rect x="1098.45" y="629.4" width="10.6" height="84.2" fill="#54ffff"/>
<rect x="1113.45" y="626.4" width="10.6" height="87.2" fill="#ff3232"/>
<rect x="1126.85" y="628" width="10.6" height="85.6" fill="#ff3232"/>
<rect x="1141.85" y="629.4" width="10.6" height="84.2" fill="#54ffff"/>
<rect x="1155.25" y="629.4" width="10.6" height="84.2" fill="#ff3232"/>
<rect x="1170.25" y="637" width="10.6" height="76.6" fill="#54ffff"/>
<rect x="1183.85" y="616" width="10.6" height="97.6" fill="#ff3232"/>
<rect x="1198.85" y="625" width="10.6" height="88.6" fill="#54ffff"/>
<rect x="1212.25" y="632.4" width="10.6" height="81.2" fill="#54ffff"/>
<rect x="1227.45" y="629.4" width="10.6" height="84.2" fill="#54ffff"/>
<rect x="1241.05" y="637" width="10.6" height="76.6" fill="#54ffff"/>
<rect x="1255.85" y="631" width="10.6" height="82.6" fill="#ff3232"/>
<rect x="1269.45" y="616" width="10.6" height="97.6" fill="#ff3232"/>
<rect x="1284.45" y="617.6" width="10.6" height="96" fill="#54ffff"/>
<rect x="1297.85" y="622" width="10.6" height="91.6" fill="#54ffff"/>
<rect x="1312.85" y="613" width="10.6" height="100.6" fill="#54ffff"/>
<rect x="1326.45" y="622" width="10.6" height="91.6" fill="#54ffff"/>
<rect x="1341.45" y="632.4" width="10.6" height="81.2" fill="#ff3232"/>
<rect x="1354.85" y="634" width="10.6" height="79.6" fill="#54ffff"/>
<rect x="1369.85" y="620.6" width="10.6" height="93" fill="#54ffff"/>
<rect x="1383.45" y="617.6" width="10.6" height="96" fill="#54ffff"/>
<rect x="1398.45" y="631" width="10.6" height="82.6" fill="#54ffff"/>
<rect x="1411.85" y="622" width="10.6" height="91.6" fill="#ff3232"/>
<polyline points="8.75,599 23.75,600 37.15,603 52.15,608 65.75,607.32 79.35,606.72 94.15,605.8 107.75,604.32 122.55,600.72 136.15,601.64 151.15,604.04 164.55,606.16 179.55,611.84 193.15,616.64 208.15,614.24 221.75,611.24 236.75,607.32 250.15,605.24 265.15,601.32 278.75,604 293.75,605.8 307.15,605.8 322.15,606.4 335.75,609.72 350.75,613.92 364.15,615.72 379.15,620.52 392.75,622 407.75,622.92 421.35,623.52 436.15,625.6 449.75,628 464.55,631 478.55,630.08 493.35,623.48 506.75,619.32 521.75,615.44 535.15,612.16 550.15,613.64 563.75,616.04 577.55,616.92 592.15,618.4 605.75,613.6 620.75,607.92 634.15,603.44 649.15,601.96 662.75,601.36 677.75,601.64 691.15,605.24 706.15,609.44 720.15,607.32 734.75,598.04 748.35,595.04 763.35,590.84 776.75,588.72 791.75,588.44 805.15,595.92 820.15,601.32 833.75,600.44 848.75,596.24 862.15,595.04 877.15,589.04 890.75,587.24 905.75,591.12 919.15,600.72 934.15,607 947.75,611.52 962.65,618.12 976.15,622 991.15,621.4 1004.75,622.32 1019.75,622.92 1033.15,620.84 1046.75,618.48 1061.75,619.08 1075.15,618.48 1090.15,622.96 1103.75,624.12 1118.75,625.88 1132.15,625.88 1147.15,627.64 1160.55,628.52 1175.55,630.04 1189.15,627.96 1204.15,627.36 1217.55,627.96 1232.75,627.96 1246.35,627.96 1261.15,630.96 1274.75,629.16 1289.75,626.2 1303.15,624.72 1318.15,619.92 1331.75,618.12 1346.75,621.4 1360.15,624.68 1375.15,624.4 1388.75,625.32 1403.75,627.12 1417.15,625.04" fill="none" stroke="#e6e6e6" stroke-width="1.3" stroke-linejoin="round" />
<polyline points="8.75,591.6 23.75,593.6 37.15,596.6 52.15,599 65.75,602.4 79.35,604 94.15,604 107.75,604 122.55,604.4 136.15,604.48 151.15,605.38 164.55,605.98 179.55,608.08 193.15,608.68 208.15,607.94 221.75,607.64 236.75,606.74 250.15,608.54 265.15,608.98 278.75,609.12 293.75,608.52 307.15,606.56 322.15,605.82 335.75,605.52 350.75,608.96 364.15,610.76 379.15,613.16 392.75,614.2 407.75,616.32 421.35,618.72 436.15,620.66 449.75,624.26 464.55,626.5 478.55,626.5 493.35,623.5 506.75,622.46 521.75,621.72 535.15,621.58 550.15,621.86 563.75,619.76 577.55,618.12 592.15,616.92 605.75,612.88 620.75,610.78 634.15,609.74 649.15,609.44 662.75,609.88 677.75,607.62 691.15,606.58 706.15,606.44 720.15,604.64 734.75,599.7 748.35,598.34 763.35,598.04 776.75,599.08 791.75,597.88 805.15,596.98 820.15,598.18 833.75,595.64 848.75,592.48 862.15,591.74 877.15,592.48 890.75,594.28 905.75,595.78 919.15,598.48 934.15,601.02 947.75,600.28 962.65,602.68 976.15,606.56 991.15,611.06 1004.75,614.66 1019.75,617.22 1033.15,619.48 1046.75,620.24 1061.75,620.24 1075.15,620.4 1090.15,622.94 1103.75,622.48 1118.75,622.18 1132.15,622.48 1147.15,623.06 1160.55,625.74 1175.55,627.08 1189.15,626.92 1204.15,626.62 1217.55,627.8 1232.75,628.24 1246.35,629 1261.15,629.46 1274.75,628.26 1289.75,627.08 1303.15,626.34 1318.15,623.94 1331.75,624.54 1346.75,625.28 1360.15,625.44 1375.15,624.56 1388.75,622.62 1403.75,622.62 1417.15,623.22" fill="none" stroke="#f0f000" stroke-width="1.3" stroke-linejoin="round" />
<text x="3.5" y="559" fill="#f0f0f0" font-size="17.6" textLength="189.5" lengthAdjust="spacingAndGlyphs" >VOLUME: 49011464.00</text>
<text x="202" y="559" fill="#f0f0f0" font-size="17.6" textLength="151" lengthAdjust="spacingAndGlyphs" >MA5: 52810468.00</text>
<text x="363" y="559" fill="#f0f000" font-size="17.6" textLength="161" lengthAdjust="spacingAndGlyphs" >MA10: 55975660.00</text>
<polyline points="8.75,810.6 23.75,806 37.15,796 52.15,789.6 65.75,781 79.35,774 94.15,771.6 107.75,768 122.55,777 136.15,785 151.15,782 164.55,789 179.55,807 193.15,812 208.15,799 221.75,786.4 236.75,795 250.15,805 265.15,827 278.75,837 293.75,847 307.15,854 322.15,852 335.75,855.6 350.75,858.4 364.15,849 379.15,843 392.75,840.4 407.75,843 421.35,850 436.15,840.4 449.75,848 464.55,853 478.55,857 493.35,858 506.75,855.6 521.75,859.6 535.15,855.6 550.15,854 563.75,849.6 577.55,847.6 592.15,847.6 605.75,823.6 620.75,812 634.15,796.6 649.15,801.6 662.75,817 677.75,825 691.15,815 706.15,804.6 720.15,808.6 734.75,794 748.35,785 763.35,780.4 776.75,774 791.75,778 805.15,789.6 820.15,789.6 833.75,785 848.75,782.4 862.15,782.4 877.15,796 890.75,812 905.75,828.4 919.15,837 934.15,847 947.75,850 962.65,856 976.15,859.6 991.15,854 1004.75,856.6 1019.75,846 1033.15,834 1046.75,822 1061.75,809 1075.15,812 1090.15,820 1103.75,835.6 1118.75,837.6 1132.15,833.6 1147.15,836 1160.55,833 1175.55,831.6 1189.15,816.4 1204.15,800 1217.55,794 1232.75,798 1246.35,819.6 1261.15,824 1274.75,822.6 1289.75,832 1303.15,840.6 1318.15,847 1331.75,854 1346.75,854 1360.15,858.4 1375.15,852 1388.75,858 1403.75,860 1417.15,852" fill="none" stroke="#e6e6e6" stroke-width="1.3" stroke-linejoin="round" />
<polyline points="8.75,818 23.75,814 37.15,807.6 52.15,801.6 65.75,795 79.35,788 94.15,782.6 107.75,777.6 122.55,777.6 136.15,780 151.15,780.4 164.55,783.6 179.55,791 193.15,798.6 208.15,798.6 221.75,794 236.75,795 250.15,799 265.15,808 278.75,818 293.75,826 307.15,835.6 322.15,841 335.75,846 350.75,851 364.15,850 379.15,847.4 392.75,845 407.75,845 421.35,846.4 436.15,845 449.75,846 464.55,848.4 478.55,851.6 493.35,854 506.75,854.4 521.75,856 535.15,855.6 550.15,855 563.75,853 577.55,851 592.15,851 605.75,841 620.75,832 634.15,820 649.15,813.6 662.75,815 677.75,818 691.15,816 706.15,813.4 720.15,811.6 734.75,805 748.35,799 763.35,793 776.75,786.4 791.75,783.6 805.15,786 820.15,786 833.75,785.6 848.75,785 862.15,785 877.15,789.6 890.75,795 905.75,807 919.15,817 934.15,828 947.75,835 962.65,842 976.15,848 991.15,850 1004.75,852.4 1019.75,851 1033.15,844 1046.75,837 1061.75,829 1075.15,823 1090.15,823 1103.75,827 1118.75,829.6 1132.15,831.6 1147.15,833.4 1160.55,833.4 1175.55,833 1189.15,827 1204.15,818 1217.55,809.6 1232.75,806 1246.35,811 1261.15,814.6 1274.75,818 1289.75,822.6 1303.15,828.4 1318.15,834.6 1331.75,841 1346.75,845 1360.15,849.6 1375.15,851.6 1388.75,853.6 1403.75,856 1417.15,854" fill="none" stroke="#f0f000" stroke-width="1.3" stroke-linejoin="round" />
<polyline points="8.75,795.6 23.75,791 37.15,768.4 52.15,765.6 65.75,752 79.35,746 94.15,750.6 107.75,749 122.55,778 136.15,797 151.15,782 164.55,799 179.55,836 193.15,840.4 208.15,800 221.75,770.6 236.75,794 250.15,818 265.15,863 278.75,874 293.75,888 307.15,890 322.15,875 335.75,875 350.75,873 364.15,847 379.15,834 392.75,829.6 407.75,841 421.35,857 436.15,832 449.75,850 464.55,862 478.55,869 493.35,869 506.75,859 521.75,868 535.15,856 550.15,852 563.75,840.4 577.55,842 592.15,842 605.75,790 620.75,771 634.15,750.6 649.15,774 662.75,822 677.75,839 691.15,814 706.15,788 720.15,802 734.75,772 748.35,758 763.35,754.6 776.75,750.6 791.75,766.4 805.15,796.6 820.15,795.4 833.75,784 848.75,777.6 862.15,777.6 877.15,809 890.75,839 905.75,872 919.15,879 934.15,890 947.75,877.6 962.65,884 976.15,882 991.15,863 1004.75,866 1019.75,840 1033.15,815 1046.75,791 1061.75,770.6 1075.15,791 1090.15,818 1103.75,854 1118.75,854 1132.15,838 1147.15,840.4 1160.55,832 1175.55,829.6 1189.15,794 1204.15,764 1217.55,760.4 1232.75,781 1246.35,839 1261.15,842 1274.75,832 1289.75,850 1303.15,866 1318.15,869 1331.75,879.6 1346.75,872 1360.15,875 1375.15,856.4 1388.75,868.4 1403.75,870.6 1417.15,849" fill="none" stroke="#f000f0" stroke-width="1.3" stroke-linejoin="round" />
<text x="3.5" y="734" fill="#d0d0d0" font-size="17.6" textLength="83.5" lengthAdjust="spacingAndGlyphs" >KDJ(9,3,3)</text>
<text x="97" y="734" fill="#f0f0f0" font-size="17.6" textLength="63" lengthAdjust="spacingAndGlyphs" >K: 53.21</text>
<text x="173" y="734" fill="#f0f000" font-size="17.6" textLength="66" lengthAdjust="spacingAndGlyphs" >D: 46.40</text>
<text x="248" y="734" fill="#f000f0" font-size="17.6" textLength="64" lengthAdjust="spacingAndGlyphs" >J: 66.83</text>
</svg></body></html>
